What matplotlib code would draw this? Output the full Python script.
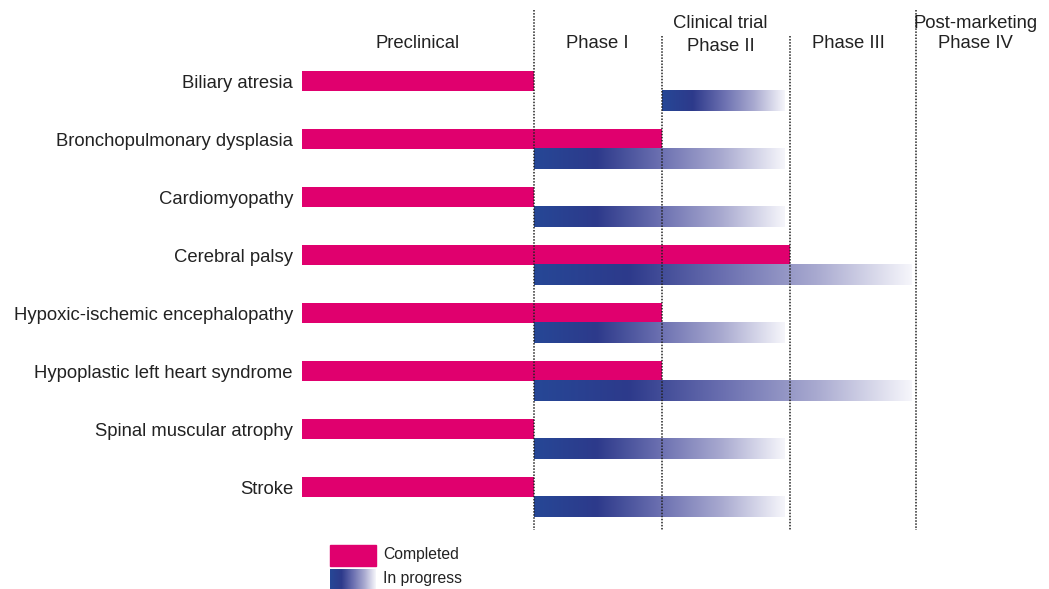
import numpy as np
import matplotlib
matplotlib.use('Agg')
import matplotlib.pyplot as plt
from matplotlib.colors import LinearSegmentedColormap
from matplotlib.patches import Rectangle

plt.rcParams['font.family'] = ['Liberation Sans', 'DejaVu Sans']

########### data #################
diseases = ['Biliary atresia', 'Bronchopulmonary dysplasia', 'Cardiomyopathy',
            'Cerebral palsy', 'Hypoxic-ischemic encephalopathy',
            'Hypoplastic left heart syndrome', 'Spinal muscular atrophy', 'Stroke']
# stage index reached: 1=preclinical, 2=phase I, 3=phase II, 4=phase III
completed_to = [1, 2, 1, 3, 2, 2, 1, 1]
progress_from = [2, 1, 1, 1, 1, 1, 1, 1]
progress_to = [3, 3, 3, 4, 3, 4, 3, 3]

stage_edges = [0, 1.81, 2.81, 3.81, 4.8, 5.8]
stage_names = ['Preclinical', 'Phase I', 'Phase II', 'Phase III', 'Phase IV']
group_names = {2: 'Clinical trial', 4: 'Post-marketing'}
legend_labels = ['Completed', 'In progress']

pink = '#e0006e'
grad = LinearSegmentedColormap.from_list(
    'prog', ['#264796', '#2d3a8b', '#6a6fb0', '#a9aad0', '#f6f6fb'])

########### plotting #################
fig = plt.figure(figsize=(10.49, 5.89), dpi=100)
ax = fig.add_axes([302 / 1049, 0, 747 / 1049, 1])
ax.set_xlim(0, 747 / 128)
ax.set_ylim((589 - 81) / 58, -81 / 58)
for s in ax.spines.values():
    s.set_visible(False)
ax.set_xticks([])

bar_h = 0.345
off = 0.353
rows = np.arange(len(diseases))
ax.barh(rows, [stage_edges[c] for c in completed_to], height=bar_h,
        color=pink, zorder=2)

gap = 0.04
ramp = np.linspace(0, 1, 256).reshape(1, -1)
for i in rows:
    x0 = stage_edges[progress_from[i]]
    x1 = stage_edges[progress_to[i]] - gap
    y = i + off
    ax.imshow(ramp, cmap=grad, aspect='auto', interpolation='bilinear',
              extent=(x0, x1, y + bar_h / 2, y - bar_h / 2), zorder=2)

ax.set_yticks(rows)
ax.set_yticklabels(diseases, fontsize=13.3, color='#222222')
ax.tick_params(axis='y', length=0, pad=6.5)

# phase dividers
for k, xb in enumerate(stage_edges[1:5]):
    top = -1.224 if k in (0, 3) else -0.776
    ax.plot([xb, xb], [top, 7.74], ls=(0, (1, 1)), color='#222222', lw=1.1,
            zorder=3, clip_on=False)

# headers
for k, name in enumerate(stage_names):
    xc = (stage_edges[k] + stage_edges[k + 1]) / 2 - (0.04 if k >= 2 else 0)
    yy = -0.603 if k == 2 else -0.638
    ax.text(xc, yy, name, ha='center', va='center', fontsize=13.3, color='#222222')
    if k in group_names:
        ax.text(xc, -0.995, group_names[k], ha='center', va='center',
                fontsize=13.3, color='#222222')

# legend
lx0, lx1 = 0.219, 0.578
ax.add_patch(Rectangle((lx0, 8.0), lx1 - lx0, 0.362, color=pink, clip_on=False))
ax.imshow(ramp, cmap=grad, aspect='auto', interpolation='bilinear',
          extent=(lx0, lx1, 8.759, 8.431), zorder=2, clip_on=False)
ax.text(0.633, 8.17, legend_labels[0], va='center', fontsize=11.3, color='#222222')
ax.text(0.633, 8.58, legend_labels[1], va='center', fontsize=11.3, color='#222222')

ax.set_xlim(0, 747 / 128)
ax.set_ylim((589 - 81) / 58, -81 / 58)
fig.savefig('out.png', dpi=100)
